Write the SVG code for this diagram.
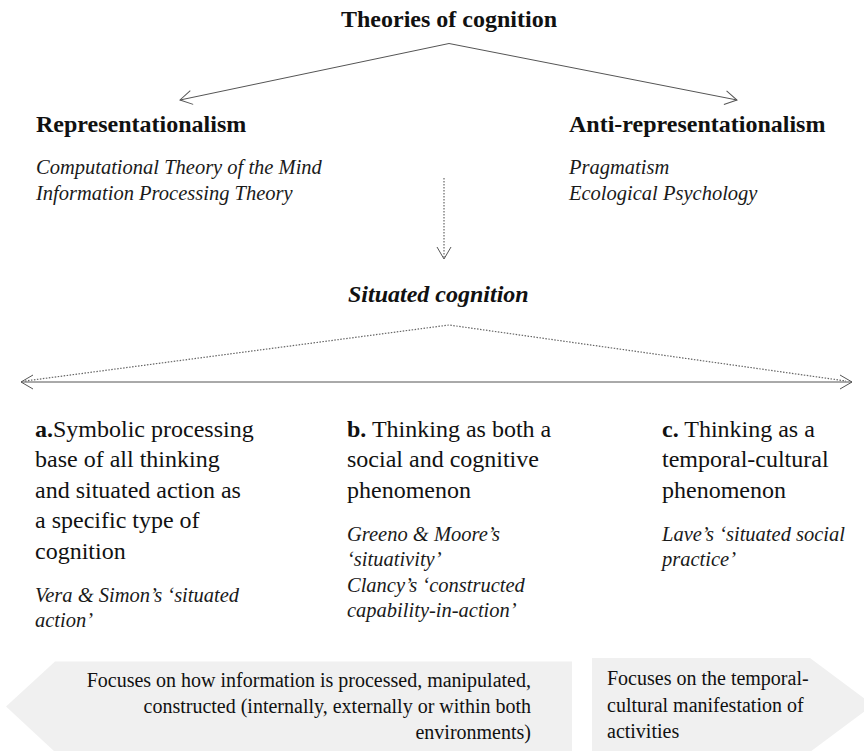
<svg xmlns="http://www.w3.org/2000/svg" width="864" height="751" viewBox="0 0 864 751">
<style>
text{font-family:"Liberation Serif","Times New Roman",serif;fill:#111}
.h{font-size:24px;font-weight:bold}
.hi{font-size:24px;font-weight:bold;font-style:italic}
.it{font-size:20.5px;font-style:italic;fill:#1a1a1a}
.b{font-size:24px}
.s{font-size:20px}
.ln{fill:none;stroke:#555;stroke-width:1}
.dot{fill:none;stroke:#666;stroke-width:1.2;stroke-dasharray:1.5 1.5}
.box{fill:#f0f0f0;stroke:none}
</style>
<defs>
<marker id="open" viewBox="0 0 14 16" refX="13" refY="8" markerWidth="14" markerHeight="16" markerUnits="userSpaceOnUse" orient="auto-start-reverse">
<path d="M1,1 L13,8 L1,15" fill="none" stroke="#555" stroke-width="1" stroke-dasharray="none"/>
</marker>
</defs>

<g id="connectors">
<line class="ln" x1="449" y1="43.5" x2="180" y2="100" marker-end="url(#open)"/>
<line class="ln" x1="449" y1="43.5" x2="737" y2="100" marker-end="url(#open)"/>
<line class="dot" x1="444" y1="178" x2="444" y2="259" marker-end="url(#open)"/>
<polyline class="dot" points="25,381 449,325 846,381"/>
<line class="ln" x1="21" y1="382" x2="852" y2="382" marker-start="url(#open)" marker-end="url(#open)"/>
</g>

<g id="theories">
<text class="h" x="449" y="27" text-anchor="middle">Theories of cognition</text>
</g>

<g id="representationalism">
<text class="h" x="36" y="132">Representationalism</text>
<text class="it" x="36" y="174">Computational Theory of the Mind</text>
<text class="it" x="36" y="200">Information Processing Theory</text>
</g>

<g id="anti-representationalism">
<text class="h" x="569" y="132">Anti-representationalism</text>
<text class="it" x="569" y="174">Pragmatism</text>
<text class="it" x="569" y="200">Ecological Psychology</text>
</g>

<g id="situated">
<text class="hi" x="348" y="302">Situated cognition</text>
</g>

<g id="col-a">
<text class="b" x="35" y="436.5"><tspan font-weight="bold">a.</tspan>Symbolic processing</text>
<text class="b" x="35" y="467">base of all thinking</text>
<text class="b" x="35" y="497.5">and situated action as</text>
<text class="b" x="35" y="528">a specific type of</text>
<text class="b" x="35" y="558.5">cognition</text>
<text class="it" x="35" y="601.5">Vera &amp; Simon’s ‘situated</text>
<text class="it" x="35" y="626.5">action’</text>
</g>

<g id="col-b">
<text class="b" x="347" y="436.5"><tspan font-weight="bold">b.</tspan> Thinking as both a</text>
<text class="b" x="347" y="467">social and cognitive</text>
<text class="b" x="347" y="497.5">phenomenon</text>
<text class="it" x="347" y="540.5">Greeno &amp; Moore’s</text>
<text class="it" x="347" y="566">‘situativity’</text>
<text class="it" x="347" y="591.5">Clancy’s ‘constructed</text>
<text class="it" x="347" y="617">capability-in-action’</text>
</g>

<g id="col-c">
<text class="b" x="662" y="436.5"><tspan font-weight="bold">c.</tspan> Thinking as a</text>
<text class="b" x="662" y="467">temporal-cultural</text>
<text class="b" x="662" y="497.5">phenomenon</text>
<text class="it" x="662" y="540.5">Lave’s ‘situated social</text>
<text class="it" x="662" y="566">practice’</text>
</g>

<g id="focus-left">
<polygon class="box" points="6,706.5 55,661.5 572,661.5 572,752 55,752"/>
<text class="s" x="531" y="686.5" text-anchor="end">Focuses on how information is processed, manipulated,</text>
<text class="s" x="531" y="712.5" text-anchor="end">constructed (internally, externally or within both</text>
<text class="s" x="531" y="738.5" text-anchor="end">environments)</text>
</g>

<g id="focus-right">
<polygon class="box" points="592,658 810,658 873,705 810,752 592,752"/>
<text class="s" x="607" y="685">Focuses on the temporal-</text>
<text class="s" x="607" y="711.5">cultural manifestation of</text>
<text class="s" x="607" y="737.5">activities</text>
</g>
</svg>
